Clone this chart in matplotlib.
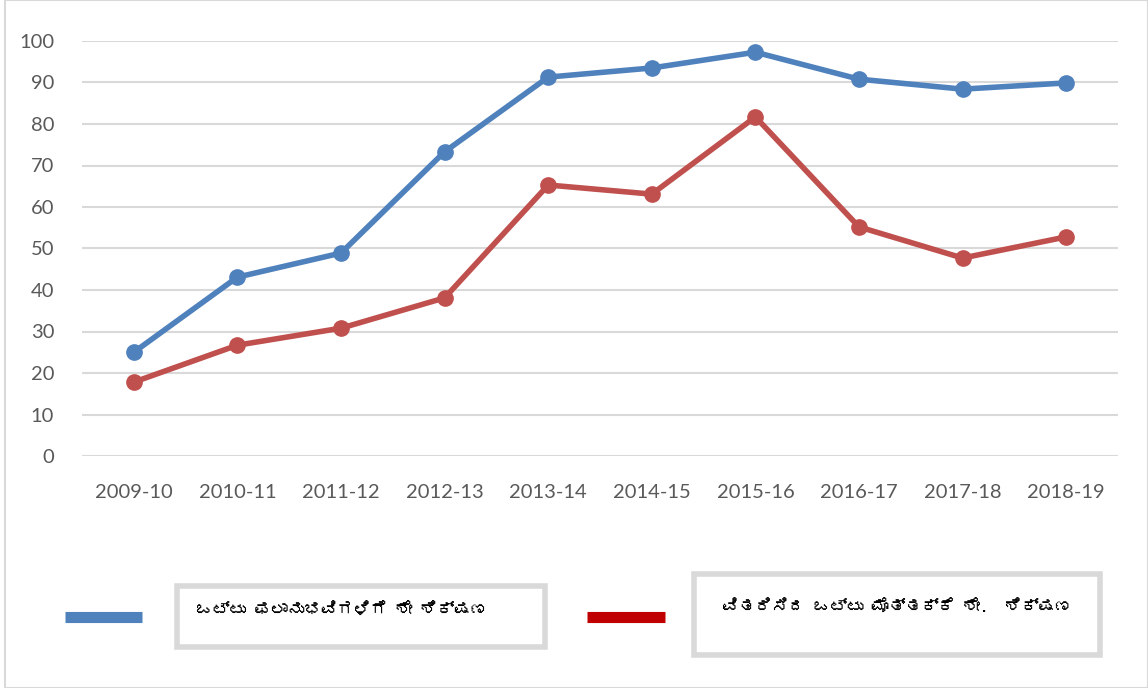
import matplotlib
matplotlib.use("Agg")
import matplotlib.pyplot as plt
from matplotlib import font_manager
from matplotlib.ft2font import FT2Font
from matplotlib.patches import Rectangle
from matplotlib.lines import Line2D

years = ['2009-10', '2010-11', '2011-12', '2012-13', '2013-14',
         '2014-15', '2015-16', '2016-17', '2017-18', '2018-19']
beneficiaries_pct = [25.0, 43.1, 48.9, 73.3, 91.3, 93.5, 97.3, 90.8, 88.4, 89.9]
amount_pct = [17.8, 26.7, 30.8, 38.1, 65.3, 63.1, 81.7, 55.2, 47.7, 52.8]
yticks = list(range(0, 101, 10))
label_blue = 'ಒಟ್ಟು ಫಲಾನುಭವಿಗಳಿಗೆ ಶೇ ಶಿಕ್ಷಣ'
label_red = 'ವಿತರಿಸಿದ ಒಟ್ಟು ಮೊತ್ತಕ್ಕೆ ಶೇ.  ಶಿಕ್ಷಣ'


# look for any installed font that has kannada glyphs
def kannada_font():
    for f in font_manager.fontManager.ttflist:
        try:
            if 0x0C92 in FT2Font(f.fname).get_charmap():
                return f.name
        except Exception:
            pass
    return None


kn = kannada_font()
kn_family = [kn, 'DejaVu Sans'] if kn else ['DejaVu Sans']

plt.rcParams['font.family'] = ['Lato', 'DejaVu Sans']

fig = plt.figure(figsize=(11.48, 6.88), dpi=100)
ax = fig.add_axes([82 / 1148, 1 - 456 / 688, 1036 / 1148, 415 / 688])

blue = '#4F81BD'
red = '#C0504D'
x = list(range(len(years)))
ax.plot(x, beneficiaries_pct, color=blue, lw=4, marker='o', ms=11, solid_capstyle='round')
ax.plot(x, amount_pct, color=red, lw=4, marker='o', ms=11, solid_capstyle='round')

ax.set_xlim(-0.5, len(years) - 0.5)
ax.set_ylim(0, 100)
ax.set_yticks(yticks)
ax.set_xticks(x)
ax.set_xticklabels(years)
ax.grid(axis='y', color='#D9D9D9', lw=1.5)
ax.set_axisbelow(True)
for s in ax.spines.values():
    s.set_visible(False)
ax.tick_params(length=0, labelsize=14.5, labelcolor='#595959')
ax.tick_params(axis='y', pad=20)
ax.tick_params(axis='x', pad=20)

# outer chart border
fig.add_artist(Rectangle((5 / 1148, 0.0), 1 - 5 / 1148, 1.0, transform=fig.transFigure,
                         fill=False, edgecolor='#D9D9D9', lw=1.5))

# legend: line samples and boxed labels
fig.add_artist(Line2D([65 / 1148, 142 / 1148], [1 - 617 / 688] * 2, transform=fig.transFigure,
                      color=blue, lw=8, solid_capstyle='butt'))
fig.add_artist(Line2D([587 / 1148, 665 / 1148], [1 - 617 / 688] * 2, transform=fig.transFigure,
                      color='#C00000', lw=8, solid_capstyle='butt'))
fig.add_artist(Rectangle((177 / 1148, 1 - 647 / 688), 368 / 1148, 61 / 688,
                         transform=fig.transFigure, fill=False, edgecolor='#D9D9D9', lw=4))
fig.add_artist(Rectangle((694 / 1148, 1 - 655 / 688), 406 / 1148, 81 / 688,
                         transform=fig.transFigure, fill=False, edgecolor='#D9D9D9', lw=4))
fig.text(196 / 1148, 1 - 610 / 688, label_blue, family=kn_family, fontsize=12,
         va='center', ha='left', color='black')
fig.text(722 / 1148, 1 - 607 / 688, label_red, family=kn_family, fontsize=12,
         va='center', ha='left', color='black')

fig.savefig('out.png', dpi=100)
